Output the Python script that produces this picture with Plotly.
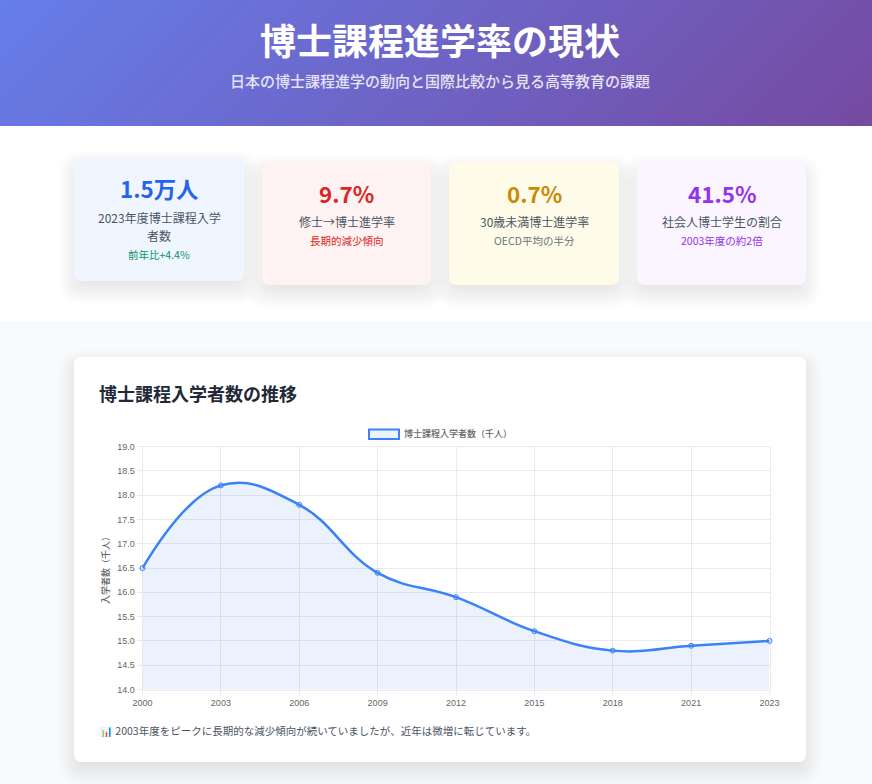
import plotly.graph_objects as go

W, H = 872, 784
FONT = "Noto Sans CJK JP"

# Chart data
years = ["2000", "2003", "2006", "2009", "2012", "2015", "2018", "2021", "2023"]
entrants = [16.5, 18.2, 17.8, 16.4, 15.9, 15.2, 14.8, 14.9, 15.0]

# Card data
card_values = ["1.5万人", "9.7%", "0.7%", "41.5%"]
card_labels = [["2023年度博士課程入学", "者数"], ["修士→博士進学率"], ["30歳未満博士進学率"], ["社会人博士学生の割合"]]
card_notes = ["前年比+4.4%", "長期的減少傾向", "OECD平均の半分", "2003年度の約2倍"]
card_colors = ["#2563eb", "#dc2626", "#ca8a04", "#9333ea"]
note_colors = ["#059669", "#dc2626", "#6b7280", "#9333ea"]
card_bgs = ["#eff6ff", "#fef2f2", "#fefce8", "#faf5ff"]
card_boxes = [(74, 158, 244, 281), (262, 162, 431, 285), (449, 162, 619, 285), (637, 162, 806, 285)]


def px(x):
    return x / W


def py(y):
    return 1 - y / H


def rounded(x0, y0, x1, y1, r):
    pts = [
        f"M{px(x0 + r)},{py(y0)}", f"L{px(x1 - r)},{py(y0)}", f"Q{px(x1)},{py(y0)} {px(x1)},{py(y0 + r)}",
        f"L{px(x1)},{py(y1 - r)}", f"Q{px(x1)},{py(y1)} {px(x1 - r)},{py(y1)}",
        f"L{px(x0 + r)},{py(y1)}", f"Q{px(x0)},{py(y1)} {px(x0)},{py(y1 - r)}",
        f"L{px(x0)},{py(y0 + r)}", f"Q{px(x0)},{py(y0)} {px(x0 + r)},{py(y0)}", "Z",
    ]
    return "".join(pts)


def rect(x0, y0, x1, y1, color):
    return dict(type="rect", xref="paper", yref="paper", x0=px(x0), x1=px(x1), y0=py(y0), y1=py(y1),
                fillcolor=color, line_width=0, layer="below")


def box(x0, y0, x1, y1, color, r=8):
    return dict(type="path", xref="paper", yref="paper", path=rounded(x0, y0, x1, y1, r),
                fillcolor=color, line_width=0, layer="below")


def shadow(x0, y0, x1, y1):
    # soft box-shadow faked with stacked translucent boxes
    out = []
    for d in range(16, -12, -1):
        out.append(box(x0 - d, y0 - d + 8, x1 + d, y1 + d + 8, "rgba(0,0,0,0.0025)", r=8 + max(d, 0)))
    return out


def text(x, y, s, size, color, weight=400, anchor="center"):
    return dict(xref="paper", yref="paper", x=px(x), y=py(y), text=s, showarrow=False, xanchor=anchor,
                yanchor="middle", font=dict(family=FONT, size=size, color=color, weight=weight))


shapes = [rect(0, 126, W, 321, "#ffffff"), rect(0, 321, W, H, "#f9fafb")]

# Header gradient, stripes along x+y like a 135deg css gradient
steps = 80
for i in range(steps):
    t = i / (steps - 1)
    c = (int(102 + 16 * t), int(126 - 51 * t), int(234 - 72 * t))
    s = 998 * i / steps
    path = (f"M{px(s)},{py(0)}L{px(900)},{py(0)}L{px(900)},{py(126)}L{px(s - 126)},{py(126)}Z")
    shapes.append(dict(type="path", xref="paper", yref="paper", path=path,
                       fillcolor=f"rgb{c}", line_width=0, layer="below"))

annotations = [
    text(440.5, 39.5, "博士課程進学率の現状", 36, "#ffffff", 700),
    text(440.5, 80, "日本の博士課程進学の動向と国際比較から見る高等教育の課題", 15, "#e4e3f6", 500),
]

# KPI cards
for i, (x0, y0, x1, y1) in enumerate(card_boxes):
    shapes += shadow(x0, y0, x1, y1)
    shapes.append(box(x0, y0, x1, y1, card_bgs[i]))
    cx = (x0 + x1) / 2
    annotations.append(text(cx, y0 + 30.5, card_values[i], 22.4, card_colors[i], 700))
    ly = y0 + 59.5
    for line in card_labels[i]:
        annotations.append(text(cx, ly, line, 12, "#4b5563"))
        ly += 18.5
    annotations.append(text(cx, ly, card_notes[i], 10.5, note_colors[i]))

# Chart card
shapes += shadow(74, 357, 806, 762)
shapes.append(box(74, 357, 806, 762, "#ffffff"))
annotations.append(text(97, 393, "博士課程入学者数の推移", 18, "#1f2937", 700, "left"))
annotations.append(text(98, 730, "📊 2003年度をピークに長期的な減少傾向が続いていましたが、近年は微増に転じています。", 10.5, "#4b5563", 400, "left"))

# Legend drawn by hand to get the chart.js box
shapes.append(dict(type="rect", xref="paper", yref="paper", x0=px(369), x1=px(399), y0=py(429.5), y1=py(439),
                   fillcolor="rgba(59,130,246,0.1)", line=dict(color="#3b82f6", width=2), layer="below"))
annotations.append(text(402, 433.5, "博士課程入学者数（千人）", 9, "#666666", 500, "left"))

fig = go.Figure(go.Scatter(
    x=years, y=entrants, mode="lines+markers", fill="tozeroy", fillcolor="rgba(59,130,246,0.1)",
    line=dict(color="#3b82f6", width=2.5, shape="spline", smoothing=1.2),
    marker=dict(size=5, color="rgba(59,130,246,0.1)", line=dict(color="#3b82f6", width=1)),
    cliponaxis=False, showlegend=False,
))

fig.update_layout(
    template="none",
    width=W, height=H, margin=dict(l=0, r=0, t=0, b=0), autosize=False,
    paper_bgcolor="#ffffff", plot_bgcolor="rgba(0,0,0,0)", shapes=shapes, annotations=annotations,
    font=dict(family="Liberation Sans, " + FONT, color="#666666", size=9),
    xaxis=dict(domain=[px(142.5), px(769.5)], type="category", range=[0, 8], showgrid=True, automargin=False,
               gridcolor="rgba(0,0,0,0.08)", ticks="outside", ticklen=5, tickcolor="rgba(0,0,0,0.08)",
               tickangle=0, linecolor="rgba(0,0,0,0.08)", showline=True, mirror=True, zeroline=False,
               tickfont=dict(size=9, color="#666666")),
    yaxis=dict(domain=[py(689.5), py(446.5)], range=[14, 19], dtick=0.5, tickformat=".1f", showgrid=True,
               automargin=False,
               gridcolor="rgba(0,0,0,0.08)", ticks="outside", ticklen=5, tickcolor="rgba(0,0,0,0.08)",
               linecolor="rgba(0,0,0,0.08)", showline=True, mirror=True, zeroline=False,
               tickfont=dict(size=9, color="#666666"),
               title=dict(text="入学者数（千人）", standoff=6,
                          font=dict(family=FONT, size=9, color="#666666", weight=500))),
)

fig.write_html("out.html", config={"displayModeBar": False},
               post_script="document.body.style.margin='0';")
